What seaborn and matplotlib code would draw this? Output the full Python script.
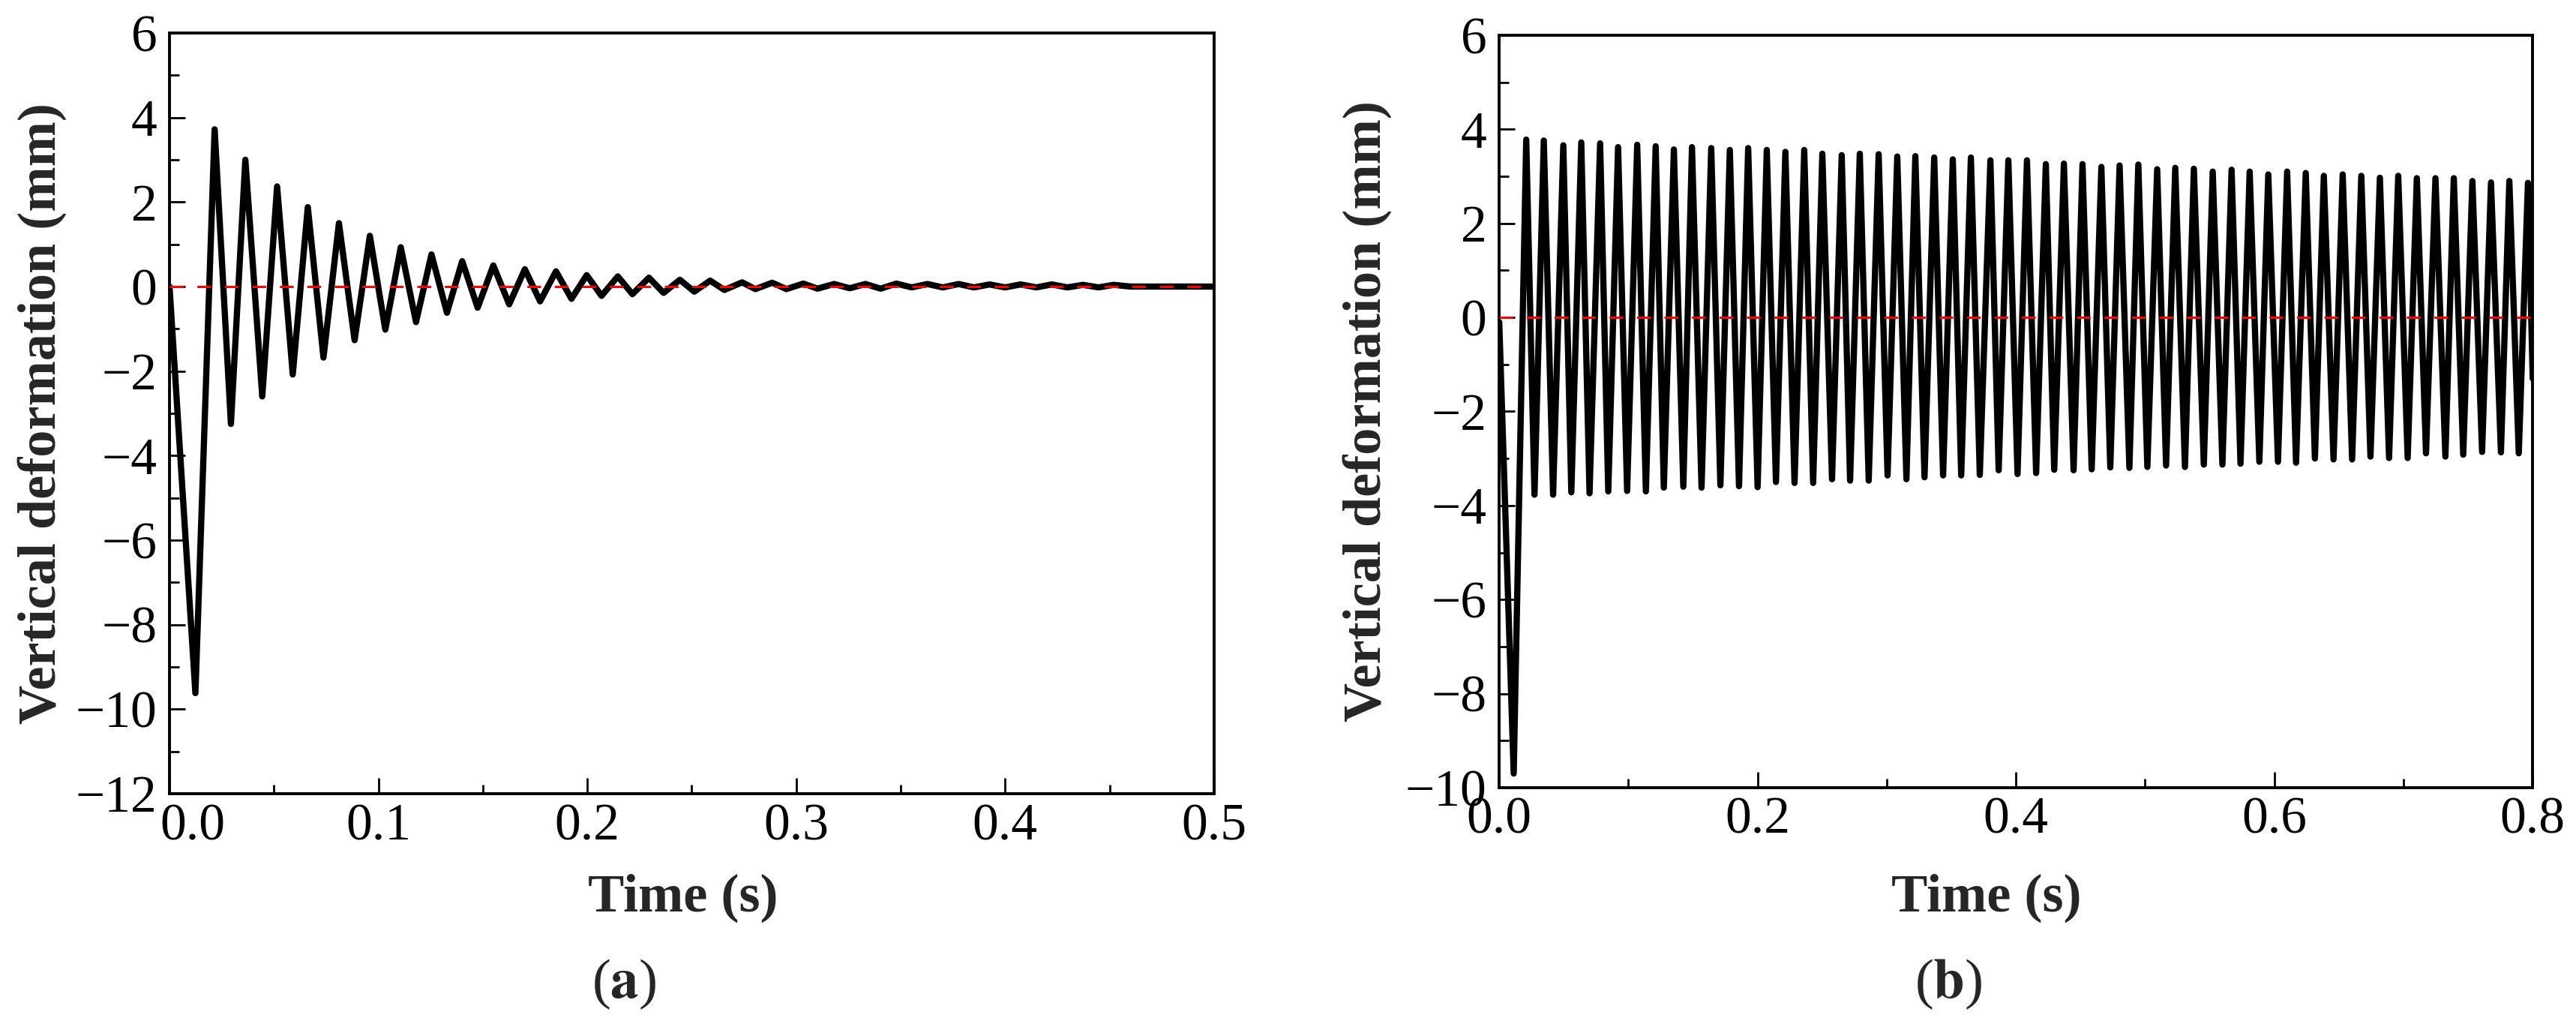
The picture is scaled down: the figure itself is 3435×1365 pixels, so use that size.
import numpy as np
import pandas as pd
import seaborn as sns
import matplotlib.pyplot as plt
from matplotlib.ticker import MultipleLocator
from matplotlib.transforms import ScaledTranslation

# ---- data (time in s, deformation in mm) ----
# (a) damped response: troughs and peaks
a_trough_t = [0.0124, 0.0294, 0.0444, 0.0590, 0.0737, 0.0886, 0.1033, 0.1180,
              0.1328, 0.1475, 0.1626, 0.1774, 0.1924, 0.2068, 0.2216, 0.2365,
              0.2512, 0.2656, 0.2804, 0.2953, 0.3102, 0.3256, 0.3404, 0.3553,
              0.3702, 0.3851, 0.4000, 0.4149, 0.4298, 0.4447]
a_trough_y = [-9.62, -3.25, -2.60, -2.08, -1.68, -1.27, -1.02, -0.84,
              -0.62, -0.50, -0.42, -0.35, -0.29, -0.22, -0.18, -0.15,
              -0.12, -0.08, -0.06, -0.06, -0.05, -0.04, -0.05, -0.02,
              -0.02, -0.02, -0.02, -0.02, -0.02, -0.02]
a_peak_t = [0.0216, 0.0363, 0.0515, 0.0662, 0.0811, 0.0959, 0.1107, 0.1254,
            0.1401, 0.1550, 0.1701, 0.1850, 0.1997, 0.2146, 0.2295, 0.2443,
            0.2588, 0.2741, 0.2885, 0.3034, 0.3181, 0.3331, 0.3479, 0.3628,
            0.3777, 0.3925, 0.4074, 0.4223, 0.4372, 0.4520]
a_peak_y = [3.72, 3.00, 2.37, 1.88, 1.50, 1.20, 0.93, 0.76,
            0.60, 0.50, 0.41, 0.36, 0.27, 0.24, 0.21, 0.16,
            0.14, 0.10, 0.09, 0.07, 0.06, 0.06, 0.07, 0.06,
            0.06, 0.05, 0.05, 0.05, 0.04, 0.04]
a_ends_t = [0.0, 0.46, 0.5]
a_ends_y = [0.0, 0.0, 0.0]

# (b) sustained response: peaks and troughs
b_peak_t = [0.0209, 0.0345, 0.0496, 0.0635, 0.0781, 0.0920, 0.1068, 0.1211,
            0.1352, 0.1492, 0.1641, 0.1785, 0.1927, 0.2071, 0.2215, 0.2361,
            0.2501, 0.2651, 0.2791, 0.2937, 0.3081, 0.3221, 0.3367, 0.3511,
            0.3651, 0.3802, 0.3941, 0.4085, 0.4231, 0.4371, 0.4515, 0.4661,
            0.4802, 0.4947, 0.5093, 0.5233, 0.5377, 0.5523, 0.5669, 0.5809,
            0.5953, 0.6099, 0.6243, 0.6383, 0.6529, 0.6673, 0.6817, 0.6959,
            0.7103, 0.7247, 0.7389, 0.7533, 0.7677, 0.7819, 0.7963]
b_peak_y = [3.78, 3.76, 3.66, 3.72, 3.70, 3.62, 3.67, 3.64,
            3.57, 3.62, 3.60, 3.56, 3.60, 3.56, 3.52, 3.56,
            3.48, 3.45, 3.48, 3.47, 3.42, 3.43, 3.40, 3.36,
            3.40, 3.34, 3.34, 3.34, 3.26, 3.27, 3.26, 3.20,
            3.23, 3.25, 3.15, 3.18, 3.16, 3.10, 3.14, 3.10,
            3.04, 3.10, 3.07, 3.01, 3.04, 3.01, 2.97, 3.01,
            2.96, 2.96, 2.96, 2.90, 2.87, 2.90, 2.86]
b_trough_t = [0.0112, 0.0273, 0.0417, 0.0558, 0.0699, 0.0844, 0.0990, 0.1135,
              0.1274, 0.1425, 0.1566, 0.1712, 0.1856, 0.2000, 0.2142, 0.2286,
              0.2430, 0.2576, 0.2716, 0.2860, 0.3006, 0.3152, 0.3292, 0.3436,
              0.3576, 0.3720, 0.3866, 0.4012, 0.4156, 0.4296, 0.4446, 0.4586,
              0.4730, 0.4878, 0.5017, 0.5162, 0.5308, 0.5454, 0.5598, 0.5738,
              0.5884, 0.6028, 0.6168, 0.6314, 0.6458, 0.6602, 0.6744, 0.6888,
              0.7032, 0.7174, 0.7324, 0.7462, 0.7608, 0.7754, 0.7892]
b_trough_y = [-9.70, -3.77, -3.77, -3.72, -3.74, -3.70, -3.69, -3.70,
              -3.62, -3.60, -3.62, -3.57, -3.59, -3.61, -3.50, -3.52,
              -3.52, -3.44, -3.47, -3.47, -3.36, -3.44, -3.40, -3.36,
              -3.36, -3.35, -3.25, -3.33, -3.31, -3.24, -3.25, -3.23,
              -3.19, -3.20, -3.18, -3.15, -3.18, -3.13, -3.13, -3.11,
              -3.07, -3.07, -3.09, -3.00, -3.02, -3.02, -2.96, -2.99,
              -2.99, -2.89, -2.96, -2.92, -2.86, -2.87, -2.89]
b_ends_t = [0.0, 0.8]
b_ends_y = [-0.1, -1.3]


def to_frame(*pairs):
    t = np.concatenate([p[0] for p in pairs])
    y = np.concatenate([p[1] for p in pairs])
    df = pd.DataFrame({"t": t, "y": y})
    return df.sort_values("t").reset_index(drop=True)


df_a = to_frame((a_ends_t, a_ends_y), (a_trough_t, a_trough_y), (a_peak_t, a_peak_y))
df_b = to_frame((b_ends_t, b_ends_y), (b_trough_t, b_trough_y), (b_peak_t, b_peak_y))

# ---- style ----
sns.set_theme(style="ticks", rc={
    "axes.edgecolor": "black",
    "axes.linewidth": 2.8,
    "xtick.direction": "in",
    "ytick.direction": "in",
    "xtick.color": "black",
    "ytick.color": "black",
})
plt.rcParams["font.family"] = ["Liberation Serif", "DejaVu Serif"]
plt.rcParams["mathtext.fontset"] = "stix"

fig = plt.figure(figsize=(34.35, 13.65), dpi=100)
ax_a = fig.add_axes([0.0658, 0.2249, 0.4055, 0.7429])
ax_b = fig.add_axes([0.5820, 0.2308, 0.4012, 0.7348])

panels = [
    (ax_a, df_a, (0, 0.5), (-12, 6), 0.1, 0.05, (0.4917, -0.137), -0.122),
    (ax_b, df_b, (0, 0.8), (-10, 6), 0.2, 0.1, (0.4717, -0.1466), -0.128),
]

for ax, df, xlim, ylim, xmaj, xmin, xlab_pos, ylab_x in panels:
    sns.lineplot(data=df, x="t", y="y", ax=ax, color="black", lw=6,
                 estimator=None, sort=False, zorder=2)
    ax.axhline(0, color="red", lw=2.2, dashes=(6, 6), zorder=3)
    ax.set_xlim(*xlim)
    ax.set_ylim(*ylim)
    ax.xaxis.set_major_locator(MultipleLocator(xmaj))
    ax.xaxis.set_minor_locator(MultipleLocator(xmin))
    ax.yaxis.set_major_locator(MultipleLocator(2))
    ax.yaxis.set_minor_locator(MultipleLocator(1))
    ax.tick_params(which="major", length=15, width=2, labelsize=50)
    ax.tick_params(which="minor", length=9, width=2)
    ax.tick_params(axis="x", which="both", pad=9, top=False)
    ax.tick_params(axis="y", which="both", pad=12, right=False)
    for s in ax.spines.values():
        s.set_visible(True)
        s.set_linewidth(2.8)
    ax.set_xlabel("Time (s)", fontsize=52, fontweight="bold")
    ax.set_ylabel("Vertical deformation (mm)", fontsize=52, fontweight="bold")
    ax.xaxis.label.set_verticalalignment("center")
    ax.yaxis.label.set_verticalalignment("center")
    ax.xaxis.set_label_coords(*xlab_pos)
    ax.yaxis.set_label_coords(ylab_x, 0.5)

fig.text(0.2422, 0.0388, r"($\mathbf{a}$)", fontsize=54, ha="center", va="center")
fig.text(0.7563, 0.0388, r"($\mathbf{b}$)", fontsize=54, ha="center", va="center")

# in (a) the first time label sits a little right of its tick
fig.canvas.draw()
shift = ScaledTranslation(0.31, 0, fig.dpi_scale_trans)
for lab in ax_a.get_xticklabels():
    if lab.get_text() == "0.0":
        lab.set_transform(lab.get_transform() + shift)

plt.savefig("out.png", dpi=100)
